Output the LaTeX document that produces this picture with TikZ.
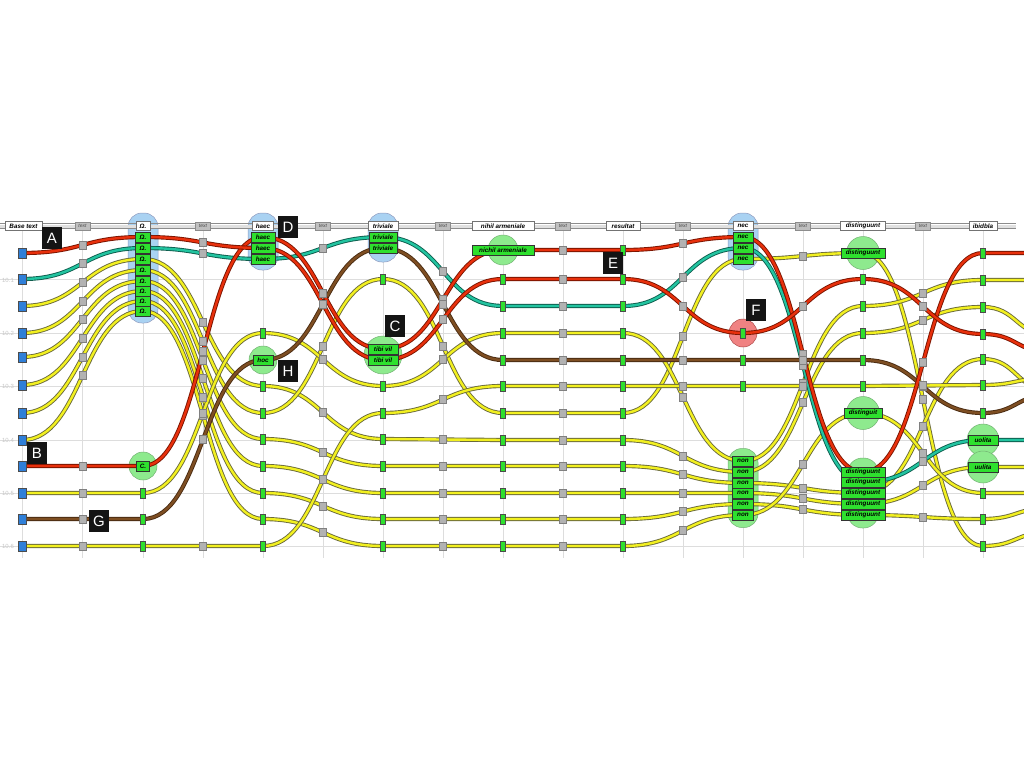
\documentclass[tikz,border=0pt]{standalone}
\usepackage{fontspec}
\setmainfont{Liberation Sans}
\definecolor{ylw}{HTML}{F2F020}
\definecolor{ylwo}{HTML}{6A6A3A}
\definecolor{rd}{HTML}{E8300C}
\definecolor{rdo}{HTML}{7A1400}
\definecolor{tl}{HTML}{22C4A0}
\definecolor{tlo}{HTML}{0E5E4E}
\definecolor{brn}{HTML}{7E4E22}
\definecolor{brno}{HTML}{4A2C12}
\definecolor{gsqc}{HTML}{2EE02E}
\definecolor{bsqc}{HTML}{2F7FD8}
\definecolor{pillb}{HTML}{A9D2F2}
\definecolor{pillg}{HTML}{8EEA8E}
\definecolor{pillr}{HTML}{F08282}
\definecolor{gridc}{HTML}{DDDDDD}

\newcommand\mkpath[1]{%
  \gdef\mypath{}%
  \foreach \yy [count=\i from 0] in #1{%
    \pgfmathsetmacro\xx{{22,143,263,383,503,623,743,863,983,1050}[\i]}%
    \ifnum\i=0
      \xdef\mypath{(\xx,\yy)}%
    \else
      \pgfmathsetmacro\xm{(\xx+\px)/2}%
      \xdef\mypath{\mypath .. controls (\xm,\py) and (\xm,\yy) .. (\xx,\yy)}%
    \fi
    \xdef\px{\xx}\xdef\py{\yy}%
  }%
}
\newcommand\drawstrand[3]{%
  \mkpath{#3}%
  \draw[line width=4.2pt,draw=#2] \mypath;
  \draw[line width=2.4pt,draw=#1] \mypath;
}
\newcommand\strandmarks[2]{%
  \foreach \yy [count=\i from 0] in #2{%
    \pgfmathsetmacro\xx{{22,143,263,383,503,623,743,863,983,1050}[\i]}%
    \ifnum\i=0
      \node[bsq] (b-#1) at (\xx,\yy) {};
    \else\ifnum\i<9
      \pgfmathsetmacro\xm{(\xx+\px)/2}%
      \pgfmathsetmacro\ym{(\yy+\py)/2}%
      \node[tsq] (t-#1-\i) at (\xm,\ym) {};
      \node[gsq] (g-#1-\i) at (\xx,\yy) {};
    \fi\fi
    \xdef\px{\xx}\xdef\py{\yy}%
  }%
}

\def\dRedA{253,237,248,360,279,279,333,279,334,352}
\def\dTeal{279,248,259,237,306,306,248,482,440,440}
\def\dRedB{466,466,237,349,250,250,237,472,253,253}
\def\dBrown{519,519,360,248,360,360,360,360,413,395}
\def\dRtwo{306,259,386,439,440,440,472,333,307,335}
\def\dRthree{333,270,413,279,413,413,259,253,546,532}
\def\dRfour{357,281,439,466,466,466,483,493,359,390}
\def\dRfive{385,291,466,493,493,493,493,504,467,467}
\def\dRsix{413,301,493,519,519,519,504,515,519,508}
\def\dRseven{440,311,519,546,546,546,515,413,493,493}
\def\dRnine{493,493,333,386,333,333,461,306,280,280}
\def\dReleven{546,546,546,413,386,386,386,386,385,378}

\tikzset{
  bsq/.style={draw=black!70,fill=bsqc,minimum width=8pt,minimum height=10pt,inner sep=0pt,line width=0.5pt},
  tsq/.style={draw=black!50,fill=black!30,minimum width=7pt,minimum height=8pt,inner sep=0pt,line width=0.5pt},
  gsq/.style={draw=black!70,fill=gsqc,minimum width=5pt,minimum height=10pt,inner sep=0pt,line width=0.5pt},
  lbox/.style={draw=black!80,fill=gsqc,minimum height=9.5pt,inner sep=1pt,line width=0.5pt,
    font=\fontsize{6.3}{6.5}\selectfont\bfseries\itshape,text=black},
  hbox/.style={draw=black!55,fill=white,minimum height=9pt,inner sep=1.2pt,line width=0.6pt,
    font=\fontsize{6.3}{6.5}\selectfont\bfseries\itshape,text=black},
  tbox/.style={draw=black!45,fill=black!25,minimum height=8pt,inner sep=1pt,line width=0.5pt,
    font=\fontsize{5}{5}\selectfont\itshape,text=black!70},
  bpill/.style={draw=pillb!70!blue!60!black!60,fill=pillb,inner sep=0pt,line width=0.5pt},
  gcirc/.style={circle,draw=green!45!black!55,fill=pillg,inner sep=0pt,line width=0.5pt},
  gpill/.style={draw=green!45!black!55,fill=pillg,inner sep=0pt,line width=0.5pt},
  rcirc/.style={circle,draw=red!55!black!70,fill=pillr,inner sep=0pt,line width=0.5pt},
  tag/.style={fill=black!92,text=white,minimum width=20pt,minimum height=22pt,inner sep=0pt,
    font=\fontsize{15}{15}\selectfont},
  rowlbl/.style={text=black!22,font=\fontsize{6}{6}\selectfont,inner sep=0pt},
}

\begin{document}
\begin{tikzpicture}[x=1pt,y=-1pt]
\useasboundingbox[fill=white] (0,0) rectangle (1024,768);

% grid
\foreach \gx in {22,82.5,143,203,263,323,383,443,503,563,623,683,743,803,863,923,983}
  \draw[gridc,line width=0.7pt] (\gx,231) -- (\gx,558);
\foreach \gy in {279,333,386,440,493,546}
  \draw[gridc,line width=0.7pt] (0,\gy) -- (1024,\gy);
\node[rowlbl] (rl0) at (8,280) {10.1};
\node[rowlbl] (rl1) at (8,333) {10.2};
\node[rowlbl] (rl2) at (8,386) {10.3};
\node[rowlbl] (rl3) at (8,440) {10.4};
\node[rowlbl] (rl4) at (8,493) {10.5};
\node[rowlbl] (rl5) at (8,546) {10.6};

% highlight shapes
\node[bpill,rounded corners=14pt,minimum width=30pt,minimum height=110pt] (pO) at (143,268) {};
\node[bpill,rounded corners=14pt,minimum width=30pt,minimum height=57pt] (pH) at (263,241.5) {};
\node[bpill,rounded corners=14pt,minimum width=30pt,minimum height=49pt] (pT) at (383,237.5) {};
\node[bpill,rounded corners=14pt,minimum width=30pt,minimum height=57pt] (pN) at (743,241.5) {};
\node[gcirc,minimum size=28pt] (cC) at (143,466) {};
\node[gcirc,minimum size=28pt] (cHoc) at (263,360) {};
\node[gcirc,minimum size=38pt] (cTibi) at (383,355) {};
\node[gcirc,minimum size=30pt] (cNih) at (503,250) {};
\node[rcirc,minimum size=28pt] (cF) at (743,333) {};
\node[gpill,rounded corners=14pt,minimum width=30pt,minimum height=79pt] (pNon) at (743,488) {};
\node[gcirc,minimum size=33pt] (cDis) at (863,253) {};
\node[gcirc,minimum size=33pt] (cDit) at (863,413) {};
\node[gpill,rounded corners=15pt,minimum width=31pt,minimum height=70pt] (pDis) at (863,493) {};
\node[gcirc,minimum size=32pt] (cUol) at (983,440) {};
\node[gcirc,minimum size=32pt] (cUul) at (983,467) {};

% strands
\begin{scope}
\clip (0,200) rectangle (1024,600);
\drawstrand{ylw}{ylwo}{\dRtwo}
\drawstrand{ylw}{ylwo}{\dRthree}
\drawstrand{ylw}{ylwo}{\dRfour}
\drawstrand{ylw}{ylwo}{\dRfive}
\drawstrand{ylw}{ylwo}{\dRsix}
\drawstrand{ylw}{ylwo}{\dRseven}
\drawstrand{ylw}{ylwo}{\dRnine}
\drawstrand{ylw}{ylwo}{\dReleven}
\drawstrand{brn}{brno}{\dBrown}
\drawstrand{tl}{tlo}{\dTeal}
\drawstrand{rd}{rdo}{\dRedB}
\drawstrand{rd}{rdo}{\dRedA}
\end{scope}

% markers
\strandmarks{ra}{\dRedA}
\strandmarks{te}{\dTeal}
\strandmarks{rb}{\dRedB}
\strandmarks{br}{\dBrown}
\strandmarks{y2}{\dRtwo}
\strandmarks{y3}{\dRthree}
\strandmarks{y4}{\dRfour}
\strandmarks{y5}{\dRfive}
\strandmarks{y6}{\dRsix}
\strandmarks{y7}{\dRseven}
\strandmarks{y9}{\dRnine}
\strandmarks{y11}{\dReleven}

% labelled boxes
\foreach \yy [count=\k] in {237,248,259,270,281,291,301,311}
  \node[lbox,minimum width=15pt] (om\k) at (143,\yy) {Ω.};
\node[lbox,minimum width=13pt] (bC) at (143,466) {C.};
\foreach \yy [count=\k] in {237,248,259}
  \node[lbox,minimum width=24pt] (ha\k) at (263,\yy) {haec};
\node[lbox,minimum width=20pt] (hoc) at (263,360) {hoc};
\foreach \yy [count=\k] in {237,248}
  \node[lbox,minimum width=28pt] (tr\k) at (383,\yy) {triviale};
\foreach \yy [count=\k] in {349,360}
  \node[lbox,minimum width=30pt] (tv\k) at (383,\yy) {tibi vil};
\node[lbox,minimum width=62pt] (nih) at (503,250) {nichil armeniale};
\foreach \yy [count=\k] in {237,248,259}
  \node[lbox,minimum width=20pt] (ne\k) at (743,\yy) {nec};
\foreach \yy [count=\k] in {461,472,483,493,504,515}
  \node[lbox,minimum width=21pt] (no\k) at (743,\yy) {non};
\node[lbox,minimum width=44pt] (dis) at (863,253) {distinguunt};
\node[lbox,minimum width=38pt] (dit) at (863,413) {distinguit};
\foreach \yy [count=\k] in {472,482,493,504,515}
  \node[lbox,minimum width=44pt] (ds\k) at (863,\yy) {distinguunt};
\node[lbox,minimum width=30pt] (uol) at (983,440) {uolita};
\node[lbox,minimum width=30pt] (uul) at (983,467) {uulita};

% header bar
\draw[black!45,line width=0.9pt] (0,223.5) -- (1016,223.5);
\draw[black!45,line width=0.9pt] (0,228.5) -- (1016,228.5);
\draw[black!12,line width=3pt] (0,226) -- (1016,226);
\node[hbox,minimum width=37pt] (h0) at (23.5,226) {Base text};
\node[hbox,minimum width=14pt] (h1) at (143,226) {Ω.};
\node[hbox,minimum width=21pt] (h2) at (263,226) {haec};
\node[hbox,minimum width=30pt] (h3) at (383,226) {triviale};
\node[hbox,minimum width=62pt] (h4) at (503,226) {nihil armeniale};
\node[hbox,minimum width=34pt] (h5) at (623,226) {resultat};
\node[hbox,minimum width=20pt] (h6) at (743,226) {nec};
\node[hbox,minimum width=45pt] (h7) at (863,226) {distinguunt};
\node[hbox,minimum width=28pt] (h8) at (983,226) {ibidbla};
\foreach \tx [count=\k] in {82.5,203,323,443,563,683,803,923}
  \node[tbox,minimum width=15pt] (ht\k) at (\tx,226) {text};

% tags
\node[tag] (tA) at (52,238) {A};
\node[tag] (tB) at (37,453) {B};
\node[tag] (tC) at (395,326) {C};
\node[tag] (tD) at (288,227) {D};
\node[tag] (tE) at (613,263) {E};
\node[tag] (tF) at (756,310) {F};
\node[tag] (tG) at (99,521) {G};
\node[tag] (tH) at (288,371) {H};
\end{tikzpicture}
\end{document}
